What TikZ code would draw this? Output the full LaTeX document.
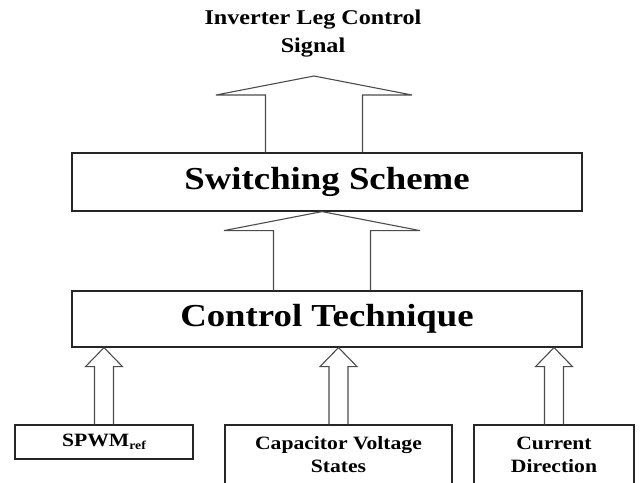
\documentclass[tikz,border=0pt]{standalone}
\usepackage{fontspec}
\setmainfont{Liberation Serif}[FakeStretch=1.15]
\usetikzlibrary{calc}
\newcommand\fatarrow[5]{% tail, tip, shaft half-width, head half-width, head length
  \draw[blockar] let \p1=(#1), \p2=(#2) in
    (\x2-#3pt,\y1) -- (\x2-#3pt,\y2-#5pt) -- (\x2-#4pt,\y2-#5pt) -- (\x2,\y2)
    -- (\x2+#4pt,\y2-#5pt) -- (\x2+#3pt,\y2-#5pt) -- (\x2+#3pt,\y1);}
\begin{document}
\begin{tikzpicture}[x=1pt,y=-1pt,
  box/.style={draw=black!85, line width=1.2pt, inner sep=0pt, align=center},
  bigtext/.style={font=\fontsize{32}{36}\selectfont\bfseries},
  smalltext/.style={font=\fontsize{18.8}{23}\selectfont\bfseries},
  blockar/.style={draw=black!70, line width=1.1pt, line join=miter},
]
\useasboundingbox (0,0) rectangle (642,482);
\clip (0,0) rectangle (642,482);

\node[align=center, font=\fontsize{21}{28}\selectfont\bfseries] (title) at (313,34) {Inverter Leg Control\\Signal};

\node[box, bigtext, minimum width=510pt, minimum height=58pt] (sw) at (327,182) {Switching Scheme};
\node[box, bigtext, minimum width=510pt, minimum height=56pt] (ctrl) at (327,319) {Control Technique};

\node[box, smalltext, minimum width=178pt, minimum height=34pt] (spwm) at (104,442) {SPWM\raisebox{-0.3ex}{\fontsize{12}{12}\selectfont ref}};
\node[box, smalltext, minimum width=227pt, minimum height=60pt] (cap) at (338.5,455) {Capacitor Voltage\\States};
\node[box, smalltext, minimum width=160pt, minimum height=60pt] (cur) at (554,455) {Current\\Direction};

\coordinate (o) at (314,76);
\coordinate (m) at (322,0);

\fatarrow{o |- sw.north}{o}{48.5}{98}{19}
\fatarrow{m |- ctrl.north}{m |- sw.south}{48.5}{98}{19}
\fatarrow{spwm.north}{spwm.north |- ctrl.south}{9.5}{18.5}{19}
\fatarrow{cap.north}{cap.north |- ctrl.south}{9.5}{18.5}{19}
\fatarrow{cur.north}{cur.north |- ctrl.south}{9.5}{18.5}{19}
\end{tikzpicture}
\end{document}
